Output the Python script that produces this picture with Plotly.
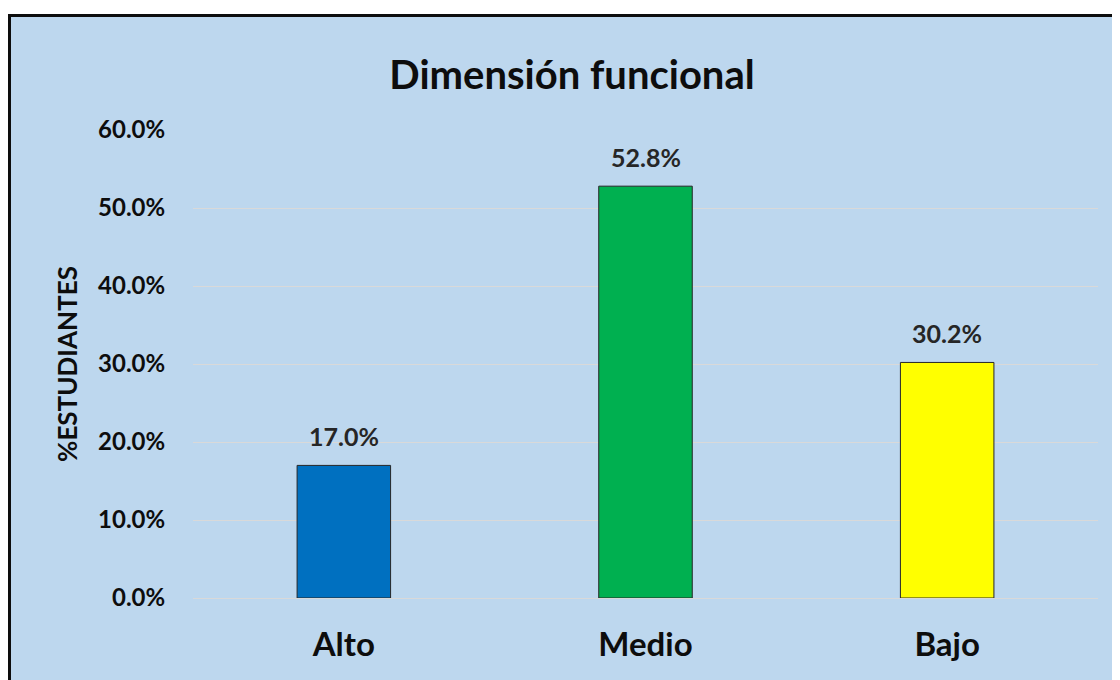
import plotly.graph_objects as go

categories = ["Alto", "Medio", "Bajo"]
values = [0.170, 0.528, 0.302]
colors = ["#0070C0", "#00B050", "#FFFF00"]
y_ticks = [0, 0.1, 0.2, 0.3, 0.4, 0.5, 0.6]

FONT = "Lato"
OFF = 8  # page offset of the figure
W, H = 1112, 672
L = 193 - OFF
R = W - (1098 - OFF)
T = 130 - OFF
B = H - (598 - OFF)
pw = W - L - R
ph = H - T - B

def px_x(p):
    return (p - OFF - L) / pw

def px_y(p):
    return (H - B - (p - OFF)) / ph

fig = go.Figure()
fig.add_trace(go.Bar(
    x=categories, y=values,
    marker=dict(color=colors, line=dict(color="#262626", width=1)),
    width=0.31,
    hoverinfo="skip",
))

for c, v in zip(categories, values):
    fig.add_annotation(
        x=c, y=v, text=f"{v*100:.1f}%", showarrow=False,
        yanchor="bottom", yshift=12,
        font=dict(family=FONT, size=25, color="#262626", weight="bold"),
    )

# chart-area fill
fig.add_shape(
    type="rect", xref="paper", yref="paper",
    x0=px_x(9.5), x1=px_x(1125), y0=px_y(685), y1=px_y(15.5),
    fillcolor="#BDD7EE", line=dict(width=0), layer="below",
)
# chart-area border (left and top edges only, the rest is off-page)
xl, xr = px_x(9.5), px_x(1125)
yb, yt = px_y(685), px_y(15.5)
fig.add_shape(
    type="path", xref="paper", yref="paper",
    path=f"M {xl} {yb} L {xl} {yt} L {xr} {yt}",
    line=dict(color="#0d0d0d", width=3), layer="below",
)

fig.update_layout(
    width=W, height=H,
    margin=dict(l=L, r=R, t=T, b=B),
    paper_bgcolor="white",
    plot_bgcolor="rgba(0,0,0,0)",
    showlegend=False,
    title=dict(
        text="<b>Dimensión funcional</b>",
        x=px_x(572), xref="paper", xanchor="center",
        y=1 - (75 - OFF) / H, yref="container", yanchor="middle",
        font=dict(family=FONT, size=40, color="#0d0d0d"),
    ),
    xaxis=dict(
        showgrid=False, showline=False, zeroline=False,
        ticks="outside", ticklen=17, tickcolor="rgba(0,0,0,0)",
        tickfont=dict(family=FONT, size=33, color="#0d0d0d", weight="bold"),
    ),
    yaxis=dict(
        range=[0, 0.6], tickvals=y_ticks, tickformat=".1%",
        showgrid=True, gridcolor="#D9D9D9", gridwidth=1,
        zeroline=True, zerolinecolor="#D9D9D9", zerolinewidth=1,
        showline=False,
        ticks="outside", ticklen=22, tickcolor="rgba(0,0,0,0)",
        tickfont=dict(family=FONT, size=24, color="#0d0d0d", weight="bold"),
        title=dict(text="<b>%ESTUDIANTES</b>", standoff=12,
                   font=dict(family=FONT, size=26, color="#0d0d0d")),
    ),
)

fig.write_html(
    "out.html",
    config={"displayModeBar": False},
    post_script=(
        "document.documentElement.style.overflow='hidden';"
        "document.body.style.overflow='hidden';"
    ),
)
